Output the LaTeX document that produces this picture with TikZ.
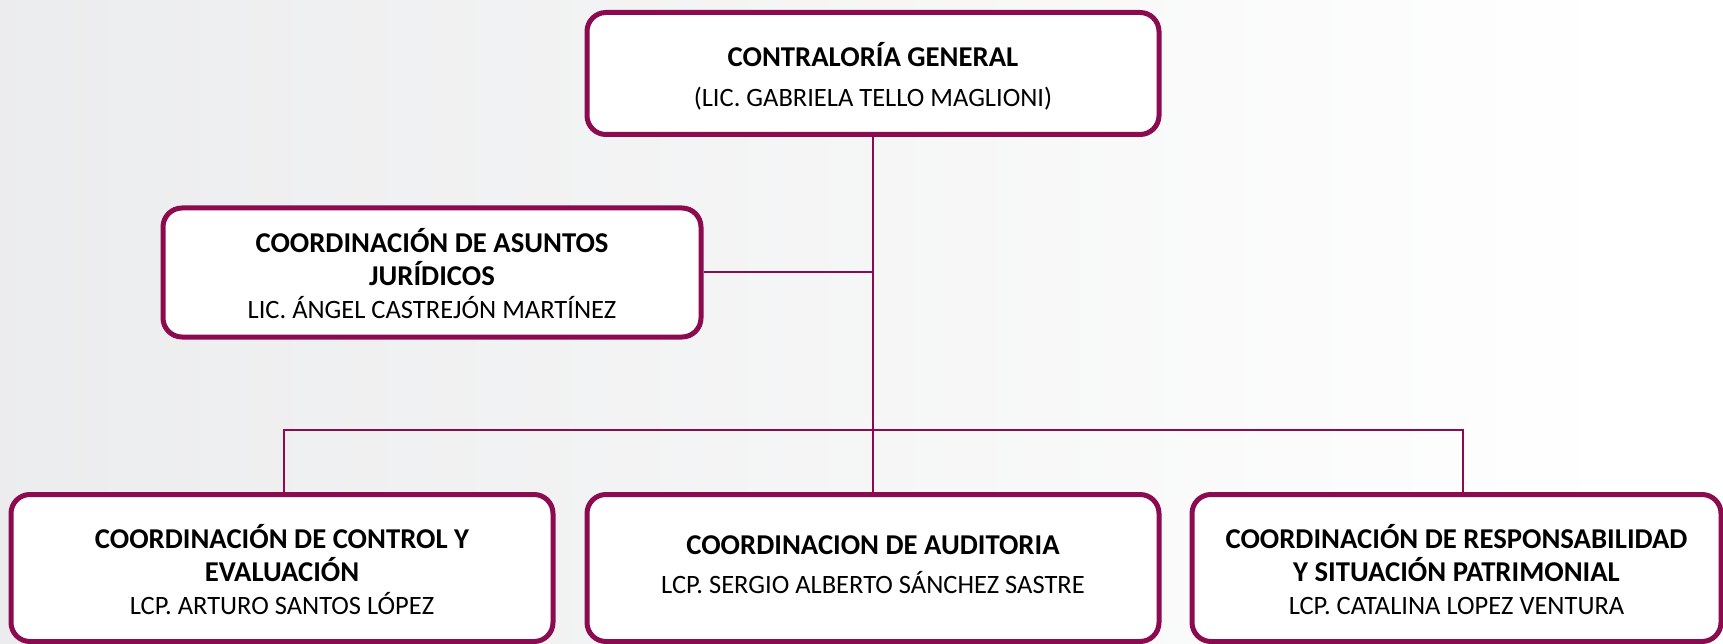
\documentclass[tikz,border=0pt]{standalone}
\usepackage{fontspec}
\setmainfont{Carlito}
\definecolor{wine}{HTML}{8C0B50}
\definecolor{bgL}{HTML}{E2E3E5}
\definecolor{bgR}{HTML}{E8E8E9}
\pgfdeclarehorizontalshading{bgshade}{100bp}{color(0bp)=(bgL); color(45bp)=(bgL!40!white); color(72bp)=(white); color(85bp)=(white); color(100bp)=(bgR)}
\newcommand{\hd}[1]{{\fontsize{28.7}{33}\selectfont\bfseries #1}}
\tikzset{
  orgbox/.style={draw=wine, line width=5pt, rounded corners=19pt, fill=white, inner sep=0pt},
  link/.style={draw=wine, line width=2pt},
  lbl/.style={align=center, font=\fontsize{26.5}{33}\selectfont, inner sep=0pt}
}
\begin{document}
\begin{tikzpicture}[x=1pt,y=-1pt]
\useasboundingbox (0,0) rectangle (1723,644);
\shade[shading=bgshade] (0,0) rectangle (1723,644);
% boxes
\node[orgbox, minimum width=572pt, minimum height=122pt] (top) at (873,73.5) {};
\node[orgbox, minimum width=538pt, minimum height=129pt] (jur) at (432,272.5) {};
\node[orgbox, minimum width=542pt, minimum height=147pt] (bl) at (282,568) {};
\node[orgbox, minimum width=572pt, minimum height=147pt] (bm) at (873,568) {};
\node[orgbox, minimum width=529pt, minimum height=147pt] (br) at (1456.5,568) {};
% connectors
\coordinate (bus) at (873,430);
\draw[link] (top.south) -- (bm.north);
\draw[link] (jur.east) -- (jur.east -| top.south);
\draw[link] ([xshift=1.5pt]bl.north) |- (bus) -| ([xshift=6pt]br.north);
% texts
\node[lbl] (ttop) at (873,76) {\hd{CONTRALORÍA GENERAL}\\[7pt](LIC. GABRIELA TELLO MAGLIONI)};
\node[lbl] (tjur) at (432,274) {\hd{COORDINACIÓN DE ASUNTOS}\\\hd{JURÍDICOS}\\LIC. ÁNGEL CASTREJÓN MARTÍNEZ};
\node[lbl] (tbl) at (282,569.5) {\hd{COORDINACIÓN DE CONTROL Y}\\\hd{EVALUACIÓN}\\LCP. ARTURO SANTOS LÓPEZ};
\node[lbl] (tbm) at (873,564.5) {\hd{COORDINACION DE AUDITORIA}\\[6pt]LCP. SERGIO ALBERTO SÁNCHEZ SASTRE};
\node[lbl] (tbr) at (1456.5,569.5) {\hd{COORDINACIÓN DE RESPONSABILIDAD}\\\hd{Y SITUACIÓN PATRIMONIAL}\\LCP. CATALINA LOPEZ VENTURA};
\end{tikzpicture}
\end{document}
